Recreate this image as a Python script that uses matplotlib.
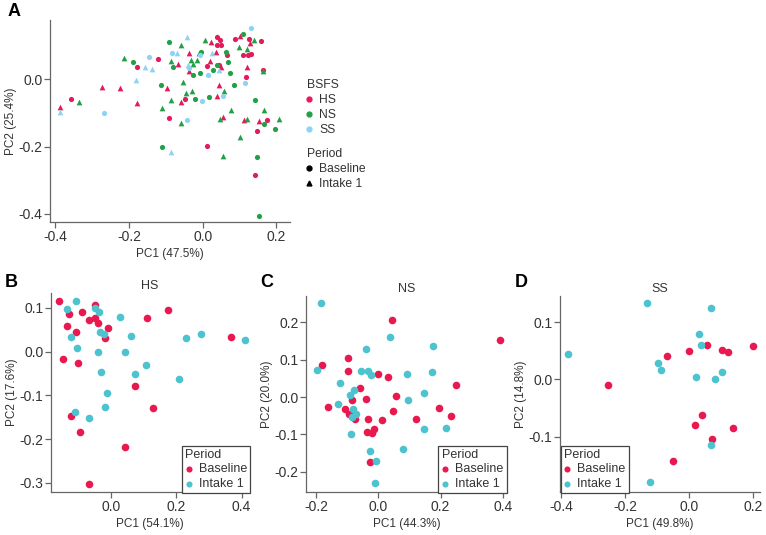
import matplotlib
matplotlib.use("Agg")
import matplotlib.pyplot as plt
from matplotlib.lines import Line2D
from matplotlib.ticker import FormatStrFormatter

plt.rcParams['font.family'] = ['Liberation Sans', 'DejaVu Sans']
plt.rcParams['font.size'] = 8.5

# ---- panel A: all samples, colour = BSFS group, shape = period ----
hs_base_x = [-0.356, -0.179, -0.121, -0.092, -0.047, 0.013, 0.044, 0.040, 0.047, 0.038, 0.049, 0.065,
             0.089, 0.109, 0.127, 0.123, 0.132, 0.159, 0.163, 0.118, 0.174, 0.148, 0.013, 0.143]
hs_base_y = [-0.059, 0.038, 0.061, -0.114, -0.058, 0.041, 0.042, 0.125, 0.117, 0.103, 0.103, 0.074,
             0.121, 0.074, 0.121, 0.072, 0.076, 0.113, 0.028, 0.008, -0.121, -0.153, -0.197, -0.285]
hs_int_x = [-0.387, -0.273, -0.224, -0.179, -0.098, -0.067, -0.038, -0.038, -0.060, 0.040, 0.045,
            0.119, 0.020, 0.036, 0.051, 0.022, 0.100, 0.128, 0.152, 0.112, 0.054]
hs_int_y = [-0.082, -0.024, -0.027, -0.069, -0.026, 0.046, 0.080, 0.025, -0.068, -0.048, -0.016,
            0.036, 0.056, 0.081, 0.038, 0.111, 0.130, 0.109, -0.125, -0.121, -0.113]
ns_base_x = [-0.188, -0.112, -0.110, -0.090, -0.080, -0.027, -0.020, 0.016, 0.085, -0.007, 0.027,
             0.074, 0.069, -0.004, 0.038, 0.063, 0.109, 0.143, 0.167, 0.195, 0.148, 0.154]
ns_base_y = [0.052, -0.016, -0.201, 0.111, 0.038, 0.013, -0.058, -0.052, -0.018, 0.018, 0.028,
             0.018, 0.052, 0.083, 0.042, 0.083, 0.135, -0.062, -0.133, -0.147, -0.231, -0.406]
ns_int_x = [-0.335, -0.214, -0.109, -0.060, -0.085, -0.031, -0.027, -0.054, -0.085, -0.045, -0.029,
            -0.058, 0.058, -0.009, 0.007, -0.016, 0.098, 0.119, 0.139, 0.163, 0.167, 0.208, 0.119,
            0.078, 0.047, 0.100, 0.054]
ns_int_y = [-0.068, 0.065, -0.085, 0.104, 0.054, 0.058, 0.046, -0.008, -0.062, -0.040, -0.036,
            -0.129, -0.036, 0.078, 0.117, 0.058, 0.096, 0.090, 0.117, 0.026, -0.090, -0.117, -0.119,
            -0.090, -0.119, -0.171, -0.229]
ss_base_x = [-0.268, -0.145, -0.084, -0.038, -0.042, -0.002, 0.054, 0.116, 0.014, 0.132, -0.007]
ss_base_y = [-0.101, 0.066, 0.078, 0.033, -0.121, -0.064, -0.048, -0.010, 0.014, 0.152, 0.072]
ss_int_x = [-0.387, -0.181, -0.157, -0.138, -0.087, -0.042, -0.069, -0.040, 0.045, 0.025]
ss_int_y = [-0.097, -0.002, 0.036, 0.031, -0.216, 0.126, 0.080, 0.044, 0.028, 0.078]

# ---- panel B: HS ----
b_base_x = [-0.160, -0.129, -0.135, -0.089, -0.107, -0.069, -0.049, -0.051, -0.042, -0.010, -0.018,
            -0.147, -0.103, 0.111, 0.174, 0.368, 0.072, 0.128, -0.125, -0.095, 0.041, -0.069]
b_base_y = [0.115, 0.087, 0.059, 0.090, 0.044, 0.073, 0.106, 0.076, 0.066, 0.054, 0.031,
            -0.018, -0.026, 0.076, 0.094, 0.034, -0.078, -0.129, -0.148, -0.185, -0.218, -0.303]
b_int_x = [-0.136, -0.109, -0.049, -0.037, -0.034, -0.022, -0.123, -0.106, -0.041, -0.031, -0.012,
           -0.019, -0.112, -0.067, 0.026, 0.062, 0.042, 0.072, 0.107, 0.208, 0.231, 0.277, 0.410]
b_int_y = [0.098, 0.116, 0.099, 0.090, 0.044, 0.041, 0.034, 0.008, -0.001, -0.046, -0.094,
           -0.126, -0.138, -0.151, 0.079, 0.036, -0.001, -0.052, -0.030, -0.063, 0.031, 0.040, 0.027]

# ---- panel C: NS ----
c_base_x = [-0.182, -0.160, -0.096, -0.096, -0.107, -0.093, -0.083, -0.075, -0.058, -0.041, -0.032,
            -0.035, -0.021, -0.014, -0.027, 0.011, -0.002, 0.032, 0.045, 0.056, 0.047, 0.120,
            0.196, 0.232, 0.250, 0.389]
c_base_y = [0.086, -0.026, 0.106, 0.070, -0.031, -0.046, -0.007, -0.059, 0.024, -0.004, -0.059,
            -0.094, -0.097, -0.085, -0.175, -0.062, 0.061, 0.054, 0.206, 0.002, -0.036, -0.059,
            -0.028, -0.051, 0.032, 0.154]
c_int_x = [-0.183, -0.198, -0.123, -0.130, -0.092, -0.078, -0.082, -0.086, -0.072, -0.087, -0.057,
           -0.034, -0.024, -0.041, 0.036, -0.027, -0.009, -0.010, 0.092, 0.096, 0.079, 0.148,
           0.147, 0.175, 0.172, 0.217]
c_int_y = [0.252, 0.074, 0.037, -0.018, 0.005, 0.018, -0.031, -0.054, -0.046, -0.098, 0.070,
           0.070, 0.059, 0.128, 0.160, -0.144, -0.171, -0.229, 0.061, -0.007, -0.140, 0.010,
           -0.084, 0.138, 0.068, -0.082]

# ---- panel D: SS ----
d_base_x = [-0.254, -0.070, 0.000, 0.056, 0.104, 0.122, 0.200, 0.041, 0.019, 0.072, 0.136, -0.049]
d_base_y = [-0.009, 0.041, 0.049, 0.060, 0.051, 0.048, 0.059, -0.063, -0.080, -0.104, -0.085, -0.142]
d_int_x = [-0.377, -0.131, 0.070, 0.031, 0.036, -0.096, -0.086, 0.021, 0.080, 0.104, 0.070, -0.121]
d_int_y = [0.044, 0.133, 0.125, 0.080, 0.061, 0.028, 0.017, 0.005, 0.001, 0.013, -0.114, -0.180]

HS_COL, NS_COL, SS_COL = '#E31B5B', '#22A047', '#8ED3F2'
BASE_COL, INT_COL = '#E8194F', '#4CC3CE'
SPINE = '#666666'
TXT = '#333333'


def style_axes(ax, xlim, ylim, xticks, yticks):
    ax.set_xlim(*xlim)
    ax.set_ylim(*ylim)
    ax.set_xticks(xticks)
    ax.set_yticks(yticks)
    ax.xaxis.set_major_formatter(FormatStrFormatter('%.1f'))
    ax.yaxis.set_major_formatter(FormatStrFormatter('%.1f'))
    for s in ['top', 'right']:
        ax.spines[s].set_visible(False)
    for s in ['left', 'bottom']:
        ax.spines[s].set_color(SPINE)
        ax.spines[s].set_linewidth(0.9)
    ax.tick_params(colors=SPINE, labelcolor=TXT, length=4, width=0.9, labelsize=10, pad=1.5)


fig = plt.figure(figsize=(7.66, 5.35), dpi=100)

# panel A
axA = fig.add_axes([0.0653, 0.585, 0.3133, 0.3776])
for xs, ys, col, mk, sz in [(hs_base_x, hs_base_y, HS_COL, 'o', 14),
                            (hs_int_x, hs_int_y, HS_COL, '^', 17),
                            (ns_base_x, ns_base_y, NS_COL, 'o', 14),
                            (ns_int_x, ns_int_y, NS_COL, '^', 17),
                            (ss_base_x, ss_base_y, SS_COL, 'o', 14),
                            (ss_int_x, ss_int_y, SS_COL, '^', 17)]:
    axA.scatter(xs, ys, c=col, marker=mk, s=sz, linewidths=0)
style_axes(axA, (-0.414, 0.237), (-0.425, 0.177), [-0.4, -0.2, 0.0, 0.2], [-0.4, -0.2, 0.0])
axA.set_xlabel('PC1 (47.5%)', color=TXT, labelpad=3)
axA.set_ylabel('PC2 (25.4%)', color=TXT, labelpad=1)

grp_handles = [Line2D([], [], ls='', marker='o', ms=3.5, color=c, label=l)
               for c, l in [(HS_COL, 'HS'), (NS_COL, 'NS'), (SS_COL, 'SS')]]
per_handles = [Line2D([], [], ls='', marker=m, ms=3.5, color='black', label=l)
               for m, l in [('o', 'Baseline'), ('^', 'Intake 1')]]
legA1 = fig.legend(handles=grp_handles, title='BSFS', loc='upper left',
                   bbox_to_anchor=(0.393, 0.863), frameon=False, alignment='left',
                   handlelength=0.4, handletextpad=0.6, labelspacing=0.25, borderpad=0,
                   fontsize=8.7, title_fontsize=8.7)
legA2 = fig.legend(handles=per_handles, title='Period', loc='upper left',
                   bbox_to_anchor=(0.393, 0.734), frameon=False, alignment='left',
                   handlelength=0.4, handletextpad=0.6, labelspacing=0.25, borderpad=0,
                   fontsize=8.7, title_fontsize=8.7)
for lg in (legA1, legA2):
    for t in lg.get_texts():
        t.set_color(TXT)
    lg.get_title().set_color(TXT)

# panels B-D
panels = [
    ('B', 'HS', [0.0666, 0.0804, 0.2572, 0.3720], b_base_x, b_base_y, b_int_x, b_int_y,
     (-0.185, 0.42), (-0.321, 0.134), [0.0, 0.2, 0.4], [-0.3, -0.2, -0.1, 0.0, 0.1],
     'PC1 (54.1%)', 'PC2 (17.6%)', 'lower right', (1.01, -0.005)),
    ('C', 'NS', [0.3995, 0.0804, 0.2620, 0.3664], c_base_x, c_base_y, c_int_x, c_int_y,
     (-0.232, 0.412), (-0.254, 0.271), [-0.2, 0.0, 0.2, 0.4], [-0.2, -0.1, 0.0, 0.1, 0.2],
     'PC1 (44.3%)', 'PC2 (20.0%)', 'lower right', (1.0, -0.005)),
    ('D', 'SS', [0.7311, 0.0804, 0.2611, 0.3664], d_base_x, d_base_y, d_int_x, d_int_y,
     (-0.403, 0.222), (-0.197, 0.146), [-0.4, -0.2, 0.0, 0.2], [-0.1, 0.0, 0.1],
     'PC1 (49.8%)', 'PC2 (14.8%)', 'lower left', (0.003, -0.005)),
]
for letter, title, rect, bx, by, ix, iy, xl, yl, xt, yt, xlab, ylab, lloc, lanchor in panels:
    ax = fig.add_axes(rect)
    ax.scatter(bx, by, c=BASE_COL, s=30, linewidths=0, label='Baseline')
    ax.scatter(ix, iy, c=INT_COL, s=30, linewidths=0, label='Intake 1')
    style_axes(ax, xl, yl, xt, yt)
    ax.set_title(title, fontsize=9, color=TXT, pad=3)
    ax.set_xlabel(xlab, color=TXT, labelpad=3)
    ax.set_ylabel(ylab, color=TXT, labelpad=1)
    lg = ax.legend(title='Period', loc=lloc, bbox_to_anchor=lanchor, borderaxespad=0,
                   alignment='left', fancybox=False, edgecolor='#444444', framealpha=1,
                   handlelength=0.6, handletextpad=0.5, labelspacing=0.2, borderpad=0.25,
                   markerscale=0.8, fontsize=9, title_fontsize=9)
    lg.get_frame().set_linewidth(0.9)
    for t in lg.get_texts():
        t.set_color(TXT)
    lg.get_title().set_color(TXT)

fig.text(0.010, 0.995, 'A', fontsize=13, fontweight='bold', va='top', ha='left')
fig.text(0.006, 0.488, 'B', fontsize=13, fontweight='bold', va='top', ha='left')
fig.text(0.340, 0.488, 'C', fontsize=13, fontweight='bold', va='top', ha='left')
fig.text(0.672, 0.488, 'D', fontsize=13, fontweight='bold', va='top', ha='left')

fig.savefig('out.png', dpi=100)
